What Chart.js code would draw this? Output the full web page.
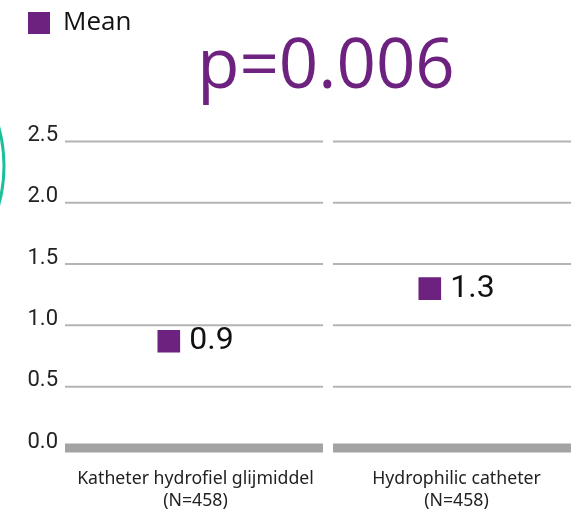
<!DOCTYPE html>
<html>
<head>
<meta charset="utf-8">
<script src="https://cdn.jsdelivr.net/npm/chart.js@4"></script>
<style>
  html, body { margin: 0; padding: 0; background: #fff; }
  #wrap { width: 571px; height: 514px; position: relative; }
</style>
</head>
<body>
<div id="wrap"><canvas id="meanChart"></canvas></div>
<script>
// data
const categories = [
  ['Katheter hydrofiel glijmiddel', '(N=458)'],
  ['Hydrophilic catheter', '(N=458)']
];
const meanValues = [0.87, 1.3];
const yTicks = [0, 0.5, 1.0, 1.5, 2.0, 2.5];
const pValue = 'p=0.006';

const purple = '#6d2280';
const valueFont = '32px Roboto';

// the plot runs a little past the right edge of the picture
const widenX = {
  id: 'widenX',
  afterLayout(chart) {
    const x = chart.scales.x;
    x.right = chart.width + 16;
    x.width = x.right - x.left;
    x.configure();
    chart.chartArea.right = x.right;
    chart.chartArea.width = x.right - chart.chartArea.left;
    if (chart.titleBlock) {
      chart.titleBlock.left = chart.chartArea.left;
      chart.titleBlock.right = x.right;
      chart.titleBlock.width = x.right - chart.chartArea.left;
    }
  }
};

// squares + value labels are centred as a group on the category
const shiftPoints = {
  id: 'shiftPoints',
  afterDatasetsUpdate(chart) {
    const ctx = chart.ctx;
    ctx.save();
    ctx.font = valueFont;
    chart.getDatasetMeta(0).data.forEach((pt, i) => {
      const w = ctx.measureText(meanValues[i].toFixed(1)).width;
      const groupW = 23 + 9 + w;
      pt.x = pt.x - groupW / 2 + 11.5;
    });
    ctx.restore();
  }
};

// gridlines with a gap between the two categories, thick zero line
const splitGrid = {
  id: 'splitGrid',
  beforeDatasetsDraw(chart) {
    const ctx = chart.ctx;
    const y = chart.scales.y, x = chart.scales.x;
    const area = chart.chartArea;
    const mid = x.getPixelForValue(0.5);
    const segs = [[area.left, mid - 3], [mid + 7, chart.width]];
    ctx.save();
    yTicks.forEach(v => {
      const py = y.getPixelForValue(v);
      ctx.strokeStyle = v === 0 ? '#a3a3a3' : '#b4b4b4';
      ctx.lineWidth = v === 0 ? 9 : 2;
      segs.forEach(s => {
        ctx.beginPath();
        ctx.moveTo(s[0], py);
        ctx.lineTo(s[1], py);
        ctx.stroke();
      });
    });
    ctx.restore();
  },
  afterDatasetsDraw(chart) {
    const ctx = chart.ctx;
    ctx.save();
    ctx.font = valueFont;
    ctx.fillStyle = '#111';
    ctx.textBaseline = 'middle';
    chart.getDatasetMeta(0).data.forEach((pt, i) => {
      ctx.fillText(meanValues[i].toFixed(1), pt.x + 11.5 + 9, pt.y);
    });
    ctx.restore();
  },
  afterDraw(chart) {
    // teal ring peeking in at the left edge
    const ctx = chart.ctx;
    ctx.save();
    ctx.strokeStyle = '#1cbf9b';
    ctx.lineWidth = 3;
    ctx.beginPath();
    ctx.arc(-143, 166, 147, 0, Math.PI * 2);
    ctx.stroke();
    ctx.restore();
  }
};

new Chart(document.getElementById('meanChart'), {
  type: 'line',
  data: {
    labels: categories,
    datasets: [{
      label: 'Mean',
      data: meanValues,
      showLine: false,
      borderWidth: 0,
      backgroundColor: purple,
      borderColor: purple,
      pointStyle: 'rect',
      pointRadius: 16,
      pointHoverRadius: 16,
      pointBorderWidth: 0,
      pointBackgroundColor: purple
    }]
  },
  options: {
    responsive: true,
    maintainAspectRatio: false,
    animation: false,
    layout: { padding: { left: 18, right: 0, top: 0, bottom: 0 } },
    plugins: {
      legend: {
        position: 'top',
        align: 'start',
        labels: {
          boxWidth: 22,
          boxHeight: 22,
          padding: 10,
          color: '#111',
          font: { family: 'Open Sans', size: 26 }
        }
      },
      title: {
        display: true,
        text: pValue,
        color: purple,
        fullSize: false,
        weight: 500,
        font: { family: 'Open Sans', size: 69, weight: 'normal', lineHeight: 0.6 },
        padding: { top: 2, bottom: 52 }
      },
      tooltip: { enabled: false }
    },
    scales: {
      x: {
        offset: true,
        grid: { display: false, drawTicks: false },
        border: { display: false },
        ticks: {
          color: '#222',
          padding: 20,
          maxRotation: 0,
          autoSkip: false,
          font: { family: 'Noto Sans', size: 17.7, lineHeight: 1.25 }
        },
        afterFit(scale) { scale.height = 66; }
      },
      y: {
        min: 0,
        max: 2.5,
        grid: { display: false, drawTicks: false },
        border: { display: false },
        ticks: {
          stepSize: 0.5,
          padding: 7,
          labelOffset: -6,
          color: '#222',
          font: { family: 'Roboto', size: 22 },
          callback: v => v.toFixed(1)
        },
        afterFit(scale) { scale.width = 47; }
      }
    }
  },
  plugins: [widenX, shiftPoints, splitGrid]
});
</script>
</body>
</html>
